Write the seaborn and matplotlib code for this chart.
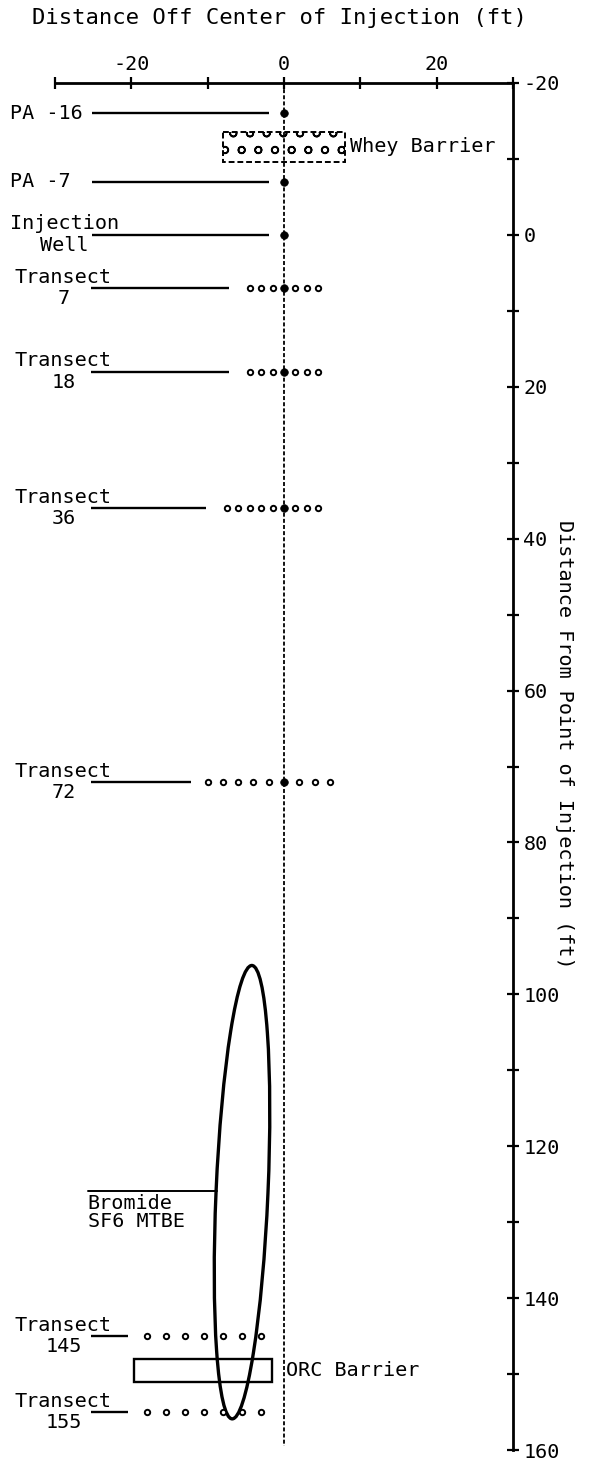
import numpy as np
import pandas as pd
import matplotlib
matplotlib.use("Agg")
import matplotlib.pyplot as plt
from matplotlib.patches import Rectangle, Ellipse
from matplotlib.ticker import FixedLocator, FixedFormatter
import seaborn as sns

# ---------------- data ----------------
x_ticks = [-30, -20, -10, 0, 10, 20, 30]
x_ticklabels = ["", "-20", "", "0", "", "20", ""]
y_ticks = list(range(-20, 161, 10))
y_ticklabels = [str(v) if v % 20 == 0 else "" for v in y_ticks]

well_labels = ["PA -16", "PA -7", "Injection\nWell"]
well_y = [-16, -7, 0]
well_line_start = [-25.2, -25.2, -25.2]
well_line_end = [-2.0, -2.0, -2.0]

transect_labels = ["Transect\n7", "Transect\n18", "Transect\n36", "Transect\n72",
                   "Transect\n145", "Transect\n155"]
transect_y = [7, 18, 36, 72, 145, 155]
transect_line_end = [-7.2, -7.2, -10.2, -12.2, -20.5, -20.5]
transect_points = [
    [-4.5, -3, -1.5, 0, 1.5, 3, 4.5],
    [-4.5, -3, -1.5, 0, 1.5, 3, 4.5],
    [-7.5, -6, -4.5, -3, -1.5, 0, 1.5, 3, 4.5],
    [-10, -8, -6, -4, -2, 0, 2, 4, 6],
    [-18, -15.5, -13, -10.5, -8, -5.5, -3],
    [-18, -15.5, -13, -10.5, -8, -5.5, -3],
]

whey_x = [-8.0, 8.0]
whey_y = [-13.6, -9.6]
orc_x = [-19.6, -1.6]
orc_y = [148.0, 151.0]

plume_top = (-4.2, 96.2)
plume_bottom = (-6.8, 155.9)
plume_width = 6.8
plume_label = "Bromide\nSF6 MTBE"
plume_label_y = 125.9

# ---------------- style ----------------
sns.set_style("white")
plt.rcParams["font.family"] = ["DejaVu Sans Mono", "DejaVu Sans"]
plt.rcParams["text.color"] = "black"
plt.rcParams["axes.labelcolor"] = "black"
plt.rcParams["xtick.color"] = "black"
plt.rcParams["ytick.color"] = "black"
plt.rcParams["hatch.linewidth"] = 1.2
FS = 14.5

fig = plt.figure(figsize=(5.89, 14.6), dpi=100)
ax = fig.add_axes([55 / 589, 1 - 1450 / 1460, (513 - 55) / 589, (1450 - 83) / 1460])
ax.set_xlim(-30, 30)
ax.set_ylim(160, -20)

# center dashed line
ax.plot([0, 0], [-20, 159.5], color="black", lw=1.3, dashes=(2.2, 1.2), zorder=2)

# well leader lines and labels
for lab, y, xs, xe in zip(well_labels, well_y, well_line_start, well_line_end):
    ax.plot([xs, xe], [y, y], color="black", lw=1.7, solid_capstyle="butt")
    if "\n" in lab:
        ax.text(-28.8, y, lab, ha="center", va="center", fontsize=FS,
                multialignment="center", clip_on=False, color="black")
    else:
        ax.text(-35.9, y, lab, ha="left", va="center", fontsize=FS,
                clip_on=False, color="black")

# transect leader lines and labels
for lab, y, xe in zip(transect_labels, transect_y, transect_line_end):
    ax.plot([-25.3, xe], [y, y], color="black", lw=1.7, solid_capstyle="butt")
    ax.text(-28.9, y, lab, ha="center", va="center", fontsize=FS,
            multialignment="center", clip_on=False, linespacing=1.15,
            color="black")

# transect dots
rows = []
for y, pts in zip(transect_y, transect_points):
    for x in pts:
        rows.append({"x": x, "y": y, "center": x == 0})
df = pd.DataFrame(rows)
sns.scatterplot(data=df[~df["center"]], x="x", y="y", ax=ax, s=15,
                facecolor="white", edgecolor="black", linewidth=1.4, zorder=4,
                legend=False)

# filled dots on center line
centers = pd.DataFrame({"x": [0] * len(well_y) + [0, 0, 0, 0],
                        "y": well_y + [7, 18, 36, 72]})
sns.scatterplot(data=centers, x="x", y="y", ax=ax, s=30, color="black",
                edgecolor="black", linewidth=0.5, zorder=5, legend=False)

# whey barrier
ax.add_patch(Rectangle((whey_x[0], whey_y[0]), whey_x[1] - whey_x[0],
                       whey_y[1] - whey_y[0], fill=False, edgecolor="black",
                       lw=1.4, ls=(0, (3, 1.5)), hatch="o", zorder=3))
ax.text(whey_x[1] + 0.6, np.mean(whey_y), "Whey Barrier", ha="left",
        va="center", fontsize=FS, color="black")

# ORC barrier
ax.add_patch(Rectangle((orc_x[0], orc_y[0]), orc_x[1] - orc_x[0],
                       orc_y[1] - orc_y[0], fill=False, edgecolor="black",
                       lw=1.7, zorder=3))
ax.text(0.3, np.mean(orc_y), "ORC Barrier", ha="left", va="center",
        fontsize=FS, color="black")

# plume ellipse
cx = (plume_top[0] + plume_bottom[0]) / 2
cy = (plume_top[1] + plume_bottom[1]) / 2
dx = plume_bottom[0] - plume_top[0]
dy = plume_bottom[1] - plume_top[1]
length = np.hypot(dx, dy)
ang = np.degrees(np.arctan2(dy, dx))
ax.add_patch(Ellipse((cx, cy), length, plume_width, angle=ang, fill=False,
                     edgecolor="black", lw=2.4, zorder=3))
ax.plot([-25.7, -8.8], [plume_label_y, plume_label_y], color="black", lw=1.4)
ax.text(-25.7, plume_label_y + 0.4, plume_label, ha="left", va="top",
        fontsize=FS, linespacing=0.95, color="black")

# axes styling
for side in ["left", "bottom"]:
    ax.spines[side].set_visible(False)
for side in ["top", "right"]:
    ax.spines[side].set_visible(True)
    ax.spines[side].set_linewidth(2.0)
    ax.spines[side].set_color("black")

ax.xaxis.set_ticks_position("top")
ax.yaxis.set_ticks_position("right")
ax.xaxis.set_major_locator(FixedLocator(x_ticks))
ax.xaxis.set_major_formatter(FixedFormatter(x_ticklabels))
ax.yaxis.set_major_locator(FixedLocator(y_ticks))
ax.yaxis.set_major_formatter(FixedFormatter(y_ticklabels))
ax.tick_params(axis="both", direction="inout", length=9, width=1.6,
               labelsize=FS, colors="black")
ax.tick_params(axis="x", pad=2, top=True, bottom=False, labeltop=True,
               labelbottom=False)
ax.tick_params(axis="y", pad=3, right=True, left=False, labelright=True,
               labelleft=False)

ax.set_xlabel("Distance Off Center of Injection (ft)", fontsize=16,
              color="black")
ax.xaxis.set_label_position("top")
ax.xaxis.set_label_coords(0.491, 1.0475)
ax.xaxis.label.set_va("center")

ax.set_ylabel("Distance From Point of Injection (ft)", fontsize=FS,
              rotation=-90, color="black")
ax.yaxis.set_label_position("right")
ax.yaxis.set_label_coords(1.113, 0.516)
ax.yaxis.label.set_va("center")

ax.set_facecolor("white")
fig.savefig("out.png", dpi=100, facecolor="white")
